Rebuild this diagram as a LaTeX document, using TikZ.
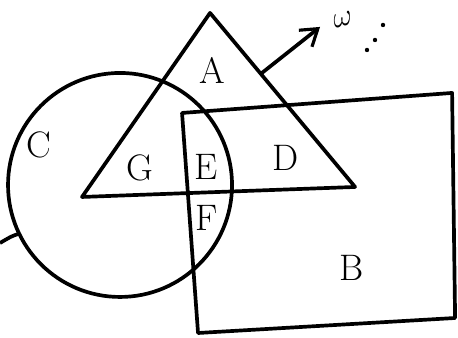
\documentclass[tikz,border=0pt]{standalone}
\usetikzlibrary{arrows.meta,calc}
\tikzset{
  region/.style={line width=2.1pt,line join=round},
  lab/.style={font=\fontsize{21}{24}\selectfont,inner sep=0pt}
}
\begin{document}
\begin{tikzpicture}[scale=0.02,>={Straight Barb[length=9pt,width=12pt,line width=1.8pt]}]
  \useasboundingbox (0,0) rectangle (458,338);

  % circle C
  \coordinate (cc) at (120,153);
  \draw[region] (cc) circle (112);
  \coordinate (cl) at (0,95);
  \draw[region] ($(cc)+(205.8:112)$) .. controls (12,102) .. (cl);

  % triangle
  \coordinate (top) at (210,325);
  \coordinate (bl) at (82,141);
  \coordinate (br) at (355,151);
  \draw[region] (top) -- (bl) -- (br) -- cycle;

  % box B
  \coordinate (r1) at (182,225);
  \coordinate (r2) at (452,245);
  \coordinate (r3) at (455,20);
  \coordinate (r4) at (198,5);
  \draw[region] (r1) -- (r2) -- (r3) -- (r4) -- cycle;

  % arrow to the note
  \coordinate (tip) at (320,311);
  \draw[region,->] ($(top)!0.35!(br)$) -- (tip);
  \node[lab,font=\fontsize{18}{18}\selectfont,rotate=15] (note) at (343,318) {\(\omega\)};
  \foreach \p in {(367,288),(375,298),(383,313)}
    \fill[black] \p circle (2.2);

  \foreach \p/\lab in {(212,268)/A,(352,70)/B,(39,193)/C,(286,180)/D,
                        (206,171)/E,(207,120)/F,(140,170)/G}
  {
    \node[lab] (lab\lab) at \p {\lab};
  }
\end{tikzpicture}
\end{document}
